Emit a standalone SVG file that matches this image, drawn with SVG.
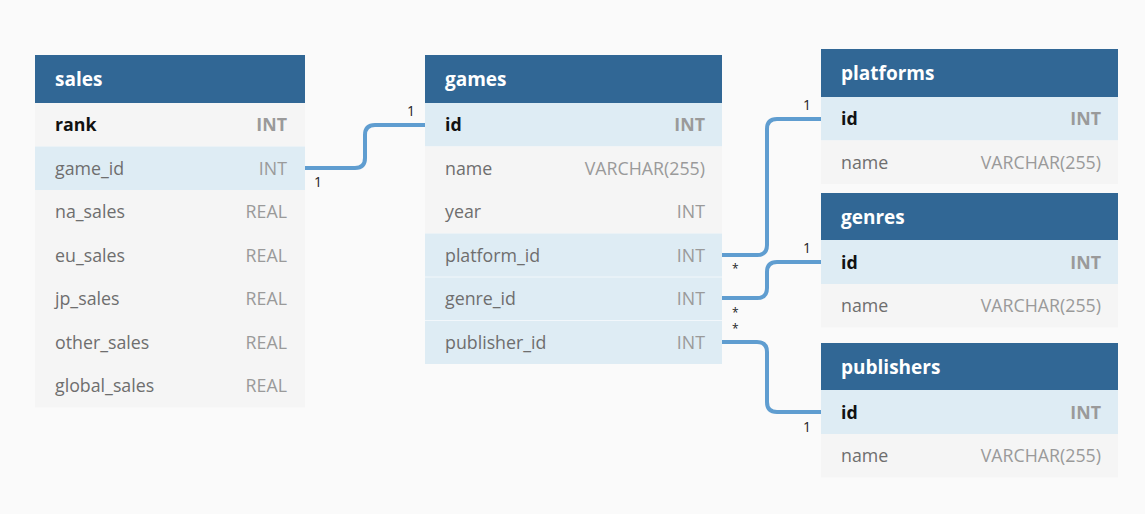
<svg xmlns="http://www.w3.org/2000/svg" width="1145" height="514" viewBox="0 0 1145 514">
<style>
.bg{fill:#fafafa}
.hd{fill:#316795}
.ht{font-family:"Open Sans",sans-serif;font-size:19px;font-weight:bold;fill:#ffffff}
.r0{fill:#f5f5f5}
.r1{fill:#deecf4}
.sep{stroke:#ffffff;stroke-width:1;stroke-opacity:0.6}
.fn{font-family:"Open Sans",sans-serif;font-size:17.8px;fill:#6e6e6e}
.pk{font-family:"Open Sans",sans-serif;font-size:17.8px;font-weight:bold;fill:#111111}
.ty{font-family:"Open Sans",sans-serif;font-size:17.8px;fill:#9a9a9a;text-anchor:end}
.tyb{font-family:"Open Sans",sans-serif;font-size:17.8px;font-weight:bold;fill:#9a9a9a;text-anchor:end}
.cn{fill:none;stroke:#5f9dd0;stroke-width:4;stroke-linecap:butt}
.lb{font-family:"Open Sans",sans-serif;font-size:14px;fill:#222222}
.st{font-family:"Open Sans",sans-serif;font-size:12px;fill:#222222}
</style>
<rect class="bg" x="0" y="0" width="1145" height="514"/>

<g id="sales">
<rect class="hd" x="35" y="55" width="270" height="48"/>
<text class="ht" x="55" y="86">sales</text>
<rect class="r0" x="35" y="103" width="270" height="43.5"/>
<rect class="r1" x="35" y="146.5" width="270" height="43.5"/>
<rect class="r0" x="35" y="190" width="270" height="217.5"/>
<text class="pk" x="55" y="131">rank</text><text class="tyb" x="287" y="131">INT</text>
<text class="fn" x="55" y="174.5">game_id</text><text class="ty" x="287" y="174.5">INT</text>
<text class="fn" x="55" y="218">na_sales</text><text class="ty" x="287" y="218">REAL</text>
<text class="fn" x="55" y="261.5">eu_sales</text><text class="ty" x="287" y="261.5">REAL</text>
<text class="fn" x="55" y="305">jp_sales</text><text class="ty" x="287" y="305">REAL</text>
<text class="fn" x="55" y="348.5">other_sales</text><text class="ty" x="287" y="348.5">REAL</text>
<text class="fn" x="55" y="392">global_sales</text><text class="ty" x="287" y="392">REAL</text>
</g>

<g id="games">
<rect class="hd" x="425" y="55" width="297" height="48"/>
<text class="ht" x="445" y="86">games</text>
<rect class="r1" x="425" y="103" width="297" height="43.5"/>
<rect class="r0" x="425" y="146.5" width="297" height="87"/>
<rect class="r1" x="425" y="233.5" width="297" height="130.5"/>
<line class="sep" x1="425" y1="277" x2="722" y2="277"/>
<line class="sep" x1="425" y1="320.5" x2="722" y2="320.5"/>
<text class="pk" x="445" y="131">id</text><text class="tyb" x="705" y="131">INT</text>
<text class="fn" x="445" y="174.5">name</text><text class="ty" x="705" y="174.5">VARCHAR(255)</text>
<text class="fn" x="445" y="218">year</text><text class="ty" x="705" y="218">INT</text>
<text class="fn" x="445" y="261.5">platform_id</text><text class="ty" x="705" y="261.5">INT</text>
<text class="fn" x="445" y="305">genre_id</text><text class="ty" x="705" y="305">INT</text>
<text class="fn" x="445" y="348.5">publisher_id</text><text class="ty" x="705" y="348.5">INT</text>
</g>

<g id="platforms">
<rect class="hd" x="821" y="49" width="297" height="48"/>
<text class="ht" x="841" y="80">platforms</text>
<rect class="r1" x="821" y="97" width="297" height="43.5"/>
<rect class="r0" x="821" y="140.5" width="297" height="43.5"/>
<text class="pk" x="841" y="125">id</text><text class="tyb" x="1101" y="125">INT</text>
<text class="fn" x="841" y="168.5">name</text><text class="ty" x="1101" y="168.5">VARCHAR(255)</text>
</g>

<g id="genres">
<rect class="hd" x="821" y="193" width="297" height="47"/>
<text class="ht" x="841" y="224">genres</text>
<rect class="r1" x="821" y="240" width="297" height="44"/>
<rect class="r0" x="821" y="284" width="297" height="43.5"/>
<text class="pk" x="841" y="268.5">id</text><text class="tyb" x="1101" y="268.5">INT</text>
<text class="fn" x="841" y="312">name</text><text class="ty" x="1101" y="312">VARCHAR(255)</text>
</g>

<g id="publishers">
<rect class="hd" x="821" y="343" width="297" height="47"/>
<text class="ht" x="841" y="374">publishers</text>
<rect class="r1" x="821" y="390" width="297" height="44"/>
<rect class="r0" x="821" y="434" width="297" height="43.5"/>
<text class="pk" x="841" y="418.5">id</text><text class="tyb" x="1101" y="418.5">INT</text>
<text class="fn" x="841" y="462">name</text><text class="ty" x="1101" y="462">VARCHAR(255)</text>
</g>

<g id="connectors">
<path class="cn" d="M305,168 H355 Q365,168 365,158 V135 Q365,125 375,125 H425"/>
<path class="cn" d="M722,255 H757 Q767,255 767,245 V129 Q767,119 777,119 H821"/>
<path class="cn" d="M722,298 H757 Q767,298 767,288 V272 Q767,262 777,262 H821"/>
<path class="cn" d="M722,342 H757 Q767,342 767,352 V402 Q767,412 777,412 H821"/>
<text class="lb" x="314" y="187">1</text>
<text class="lb" x="407" y="116">1</text>
<text class="lb" x="803" y="110">1</text>
<text class="st" x="732" y="273">*</text>
<text class="lb" x="803" y="253">1</text>
<text class="st" x="732" y="317">*</text>
<text class="st" x="732" y="333">*</text>
<text class="lb" x="803" y="432">1</text>
</g>
</svg>
